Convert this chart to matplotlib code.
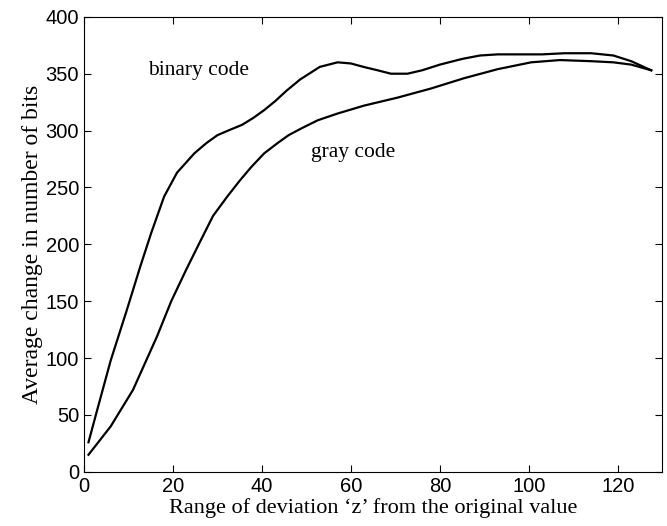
import matplotlib.pyplot as plt

# values
binary_x = [1, 3, 6, 9.6, 12.6, 15.1, 18, 20.9, 24.8, 27.5, 30, 33, 35.5, 38, 40.5, 43,
            45.5, 48.6, 53, 57, 60, 62.8, 66, 69, 72.7, 76, 80, 85, 89, 93, 97.5, 103,
            108, 114, 119, 123, 127.5]
binary_y = [26, 55, 98, 142, 180, 210, 242, 263, 280, 289, 296, 301, 305, 311, 318, 326,
            335, 345, 356, 360, 359, 356, 353, 350, 350, 353, 358, 363, 366, 367, 367, 367,
            368, 368, 366, 361, 353]

gray_x = [1, 6, 11, 16.4, 19.6, 23, 26.3, 29, 32.2, 35, 37.6, 40.5, 43.5, 46, 48.9, 52.5,
          57, 63, 70.5, 78, 85.4, 93, 100.5, 107, 114, 119, 123, 127.5]
gray_y = [15, 40, 72, 119, 150, 178, 204, 225, 242, 256, 268, 280, 289, 296, 302, 309,
          315, 322, 329, 337, 346, 354, 360, 362, 361, 360, 358, 353]

serif = 'Liberation Serif'
sans = 'Liberation Sans'

fig = plt.figure(figsize=(6.67, 5.26), dpi=100)
ax = fig.add_axes([0.126, 0.103, 0.867, 0.865])

ax.plot(binary_x, binary_y, color='black', lw=1.6)
ax.plot(gray_x, gray_y, color='black', lw=1.6)

ax.text(14.4, 353, 'binary code', fontsize=15.5, family=serif, va='center')
ax.text(51, 281, 'gray code', fontsize=15.5, family=serif, va='center')

ax.set_xlim(0, 130)
ax.set_ylim(0, 400)
ax.set_xticks(range(0, 121, 20))
ax.set_yticks(range(0, 401, 50))
ax.tick_params(direction='in', top=True, right=True, length=5, labelsize=14.5)
for lab in ax.get_xticklabels() + ax.get_yticklabels():
    lab.set_family(sans)

ax.set_xlabel('Range of deviation \u2018z\u2019 from the original value', fontsize=16, family=serif,
              labelpad=2)
ax.set_ylabel('Average change in number of bits', fontsize=17, family=serif, labelpad=2)

fig.savefig('out.png', dpi=100)
